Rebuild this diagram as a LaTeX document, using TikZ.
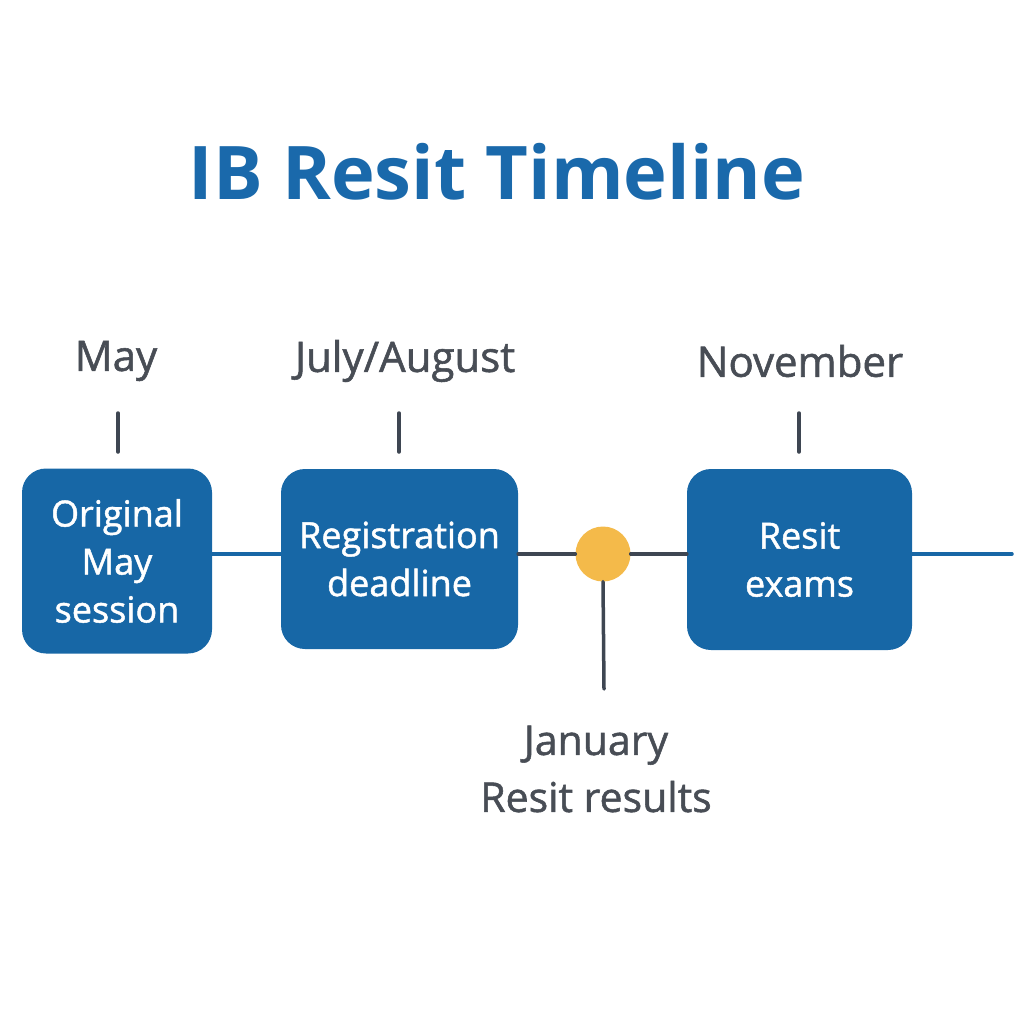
\documentclass[tikz,border=0pt]{standalone}
\usepackage{fontspec}
\setmainfont{Open Sans}
\newfontfamily\medfont[FakeBold=1.3]{Open Sans}
\definecolor{boxblue}{HTML}{1767A6}
\definecolor{titleblue}{HTML}{1A69AB}
\definecolor{txtgray}{HTML}{484D55}
\definecolor{linedark}{HTML}{3E4652}
\definecolor{dotyellow}{HTML}{F4BA4A}
\begin{document}
\begin{tikzpicture}[x=1pt,y=-1pt,
  stagebox/.style={draw=none,fill=boxblue,rounded corners=24pt,text=white,align=center,font=\medfont\fontsize{36}{48}\selectfont,inner sep=0pt},
  monthlbl/.style={text=txtgray,font=\medfont\fontsize{42}{52}\selectfont,inner sep=0pt},
  tick/.style={draw=linedark,line width=3.5pt,line cap=round},
  blueline/.style={draw=boxblue,line width=3.5pt,line cap=round},
  darkline/.style={draw=linedark,line width=3.5pt,line cap=round}]
\useasboundingbox (0,0) rectangle (1024,1024);
\node[text=titleblue,font=\bfseries\fontsize{74}{86}\selectfont,inner sep=0pt] (title) at (497,172) {IB Resit Timeline};
% boxes
\node[stagebox,minimum width=190pt,minimum height=185pt] (b1) at (117,561) {Original\\May\\session};
\node[stagebox,minimum width=237pt,minimum height=180pt] (b2) at (399.5,559) {Registration\\deadline};
\node[stagebox,minimum width=225pt,minimum height=181pt] (b3) at (799.5,559.5) {Resit\\exams};
\node[circle,fill=dotyellow,minimum size=55pt,inner sep=0pt] (dot) at (603,554) {};
\coordinate (rend) at (1012,554);
% timeline
\draw[blueline] (b1.east |- 0,554) -- (b2.west |- 0,554);
\draw[darkline] (b2.east |- 0,554) -- (dot.west);
\draw[darkline] (dot.east) -- (b3.west |- 0,554);
\draw[blueline] (b3.east |- 0,554) -- (rend);
% month labels
\node[monthlbl] (m1) at (116,361) {May};
\node[monthlbl] (m2) at (405,361) {July/August};
\node[monthlbl] (m3) at (800,361) {November};
\coordinate (t1a) at (118,413); \coordinate (t1b) at (118,452);
\coordinate (t2a) at (399,413); \coordinate (t2b) at (399,452);
\coordinate (t3a) at (799,413); \coordinate (t3b) at (799,452);
\draw[tick] (t1a) -- (t1b);
\draw[tick] (t2a) -- (t2b);
\draw[tick] (t3a) -- (t3b);
% January
\coordinate (jend) at (604,689);
\draw[darkline] (dot.south) -- (jend);
\node[monthlbl,align=center,font=\medfont\fontsize{41}{57}\selectfont] (jan) at (596,769) {January\\Resit results};
\end{tikzpicture}
\end{document}
